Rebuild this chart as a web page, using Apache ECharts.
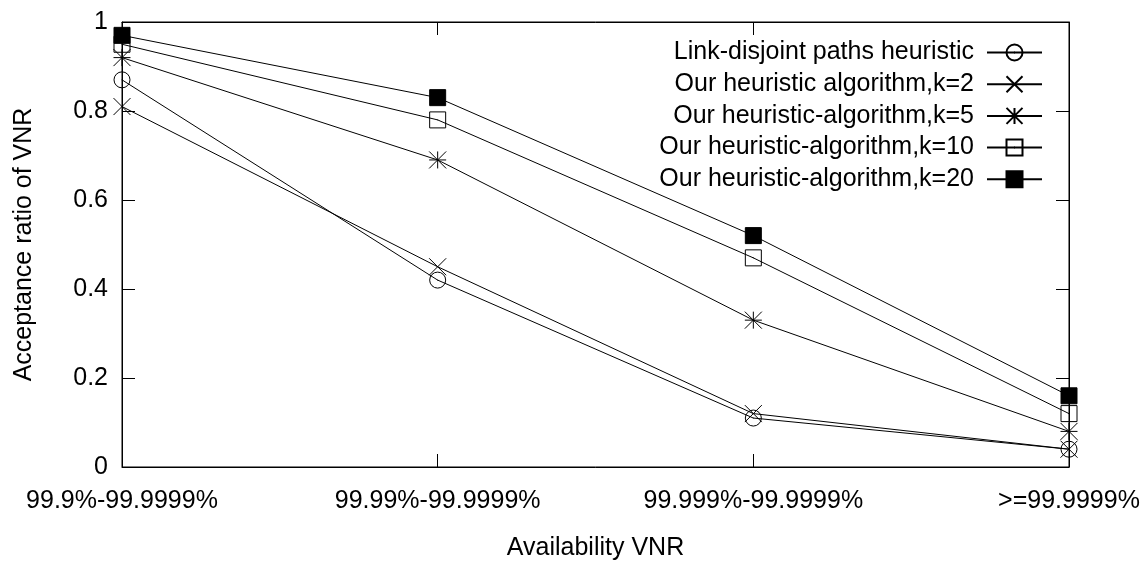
<!DOCTYPE html>
<html>
<head>
<meta charset="utf-8">
<script src="https://cdn.jsdelivr.net/npm/echarts@6/dist/echarts.min.js"></script>
<style>
html,body{margin:0;padding:0;background:#fff;}
#c{width:1145px;height:563px;}
</style>
</head>
<body>
<div id="c"></div>
<script>
const categories = ['99.9%-99.9999%', '99.99%-99.9999%', '99.999%-99.9999%', '>=99.9999%'];
const seriesNames = [
  'Link-disjoint paths heuristic',
  'Our heuristic algorithm,k=2',
  'Our heuristic-algorithm,k=5',
  'Our heuristic-algorithm,k=10',
  'Our heuristic-algorithm,k=20'
];
const linkDisjoint = [0.87, 0.42, 0.11, 0.04];
const heurK2 = [0.81, 0.45, 0.12, 0.04];
const heurK5 = [0.92, 0.69, 0.33, 0.08];
const heurK10 = [0.95, 0.78, 0.47, 0.12];
const heurK20 = [0.97, 0.83, 0.52, 0.16];
const yTicks = [0, 0.2, 0.4, 0.6, 0.8, 1];

const FONT = '"Liberation Sans", Arial, sans-serif';
const FS = 25;
const symCircle = 'path://M8 0A8 8 0 1 1 8 16A8 8 0 1 1 8 0ZM7.6 8L8.4 8';
const symX = 'path://M0 0L16 16M16 0L0 16';
const symStar = 'path://M0 0L16 16M16 0L0 16M8 0L8 16M0 8L16 8';
const symSquare = 'path://M0 0L16 0L16 16L0 16ZM7.6 8L8.4 8';
const hollow = {color: 'rgba(0,0,0,0)', borderColor: '#000', borderWidth: 1};

function mk(name, data, symbol, itemStyle, size) {
  return {
    name: name, type: 'line', data: data,
    symbol: symbol, symbolSize: size,
    lineStyle: {color: '#000', width: 1},
    itemStyle: itemStyle,
    emphasis: {disabled: true},
    z: 2
  };
}

const chart = echarts.init(document.getElementById('c'), null, {renderer: 'canvas'});
const axisLine = {show: true, onZero: false, lineStyle: {color: '#000', width: 1}};
const tick = {show: true, inside: true, length: 13, lineStyle: {color: '#000'}};
chart.setOption({
  animation: false,
  backgroundColor: '#fff',
  textStyle: {fontFamily: FONT, color: '#000'},
  grid: {left: 122, right: 76, top: 22, bottom: 96, containLabel: false, outerBoundsMode: 'none',
         show: true, borderColor: '#000', borderWidth: 1},
  legend: {
    right: 97, top: 35, orient: 'vertical', align: 'right',
    itemWidth: 55, itemHeight: 20, itemGap: 6.7,
    textStyle: {fontFamily: FONT, fontSize: FS, color: '#000', lineHeight: 25, padding: [0, 8, 0, 0]},
    data: seriesNames
  },
  xAxis: [{
    type: 'category', data: categories, boundaryGap: false, position: 'bottom',
    name: 'Availability VNR', nameLocation: 'middle', nameGap: 69,
    nameTextStyle: {fontFamily: FONT, fontSize: FS, color: '#000'},
    axisLine: axisLine, axisTick: tick,
    axisLabel: {fontFamily: FONT, fontSize: FS, color: '#000', margin: 22},
    splitLine: {show: false}
  }, {
    type: 'category', data: categories, boundaryGap: false, position: 'top',
    axisLine: axisLine, axisTick: tick,
    axisLabel: {show: false}, splitLine: {show: false}
  }],
  yAxis: [{
    type: 'value', min: yTicks[0], max: yTicks[yTicks.length - 1], interval: 0.2, position: 'left',
    name: 'Acceptance ratio of VNR', nameLocation: 'middle', nameGap: 85,
    nameTextStyle: {fontFamily: FONT, fontSize: FS, color: '#000'},
    axisLine: axisLine, axisTick: tick,
    axisLabel: {fontFamily: FONT, fontSize: FS, color: '#000', margin: 14},
    splitLine: {show: false}
  }, {
    type: 'value', min: yTicks[0], max: yTicks[yTicks.length - 1], interval: 0.2, position: 'right',
    axisLine: axisLine, axisTick: tick,
    axisLabel: {show: false}, splitLine: {show: false}
  }],
  series: [
    mk(seriesNames[0], linkDisjoint, symCircle, hollow, 16),
    mk(seriesNames[1], heurK2, symX, hollow, 17),
    mk(seriesNames[2], heurK5, symStar, hollow, 17),
    mk(seriesNames[3], heurK10, symSquare, hollow, 16),
    mk(seriesNames[4], heurK20, 'rect', {color: '#000', borderColor: '#000', borderWidth: 1}, 16)
  ]
});
</script>
</body>
</html>
